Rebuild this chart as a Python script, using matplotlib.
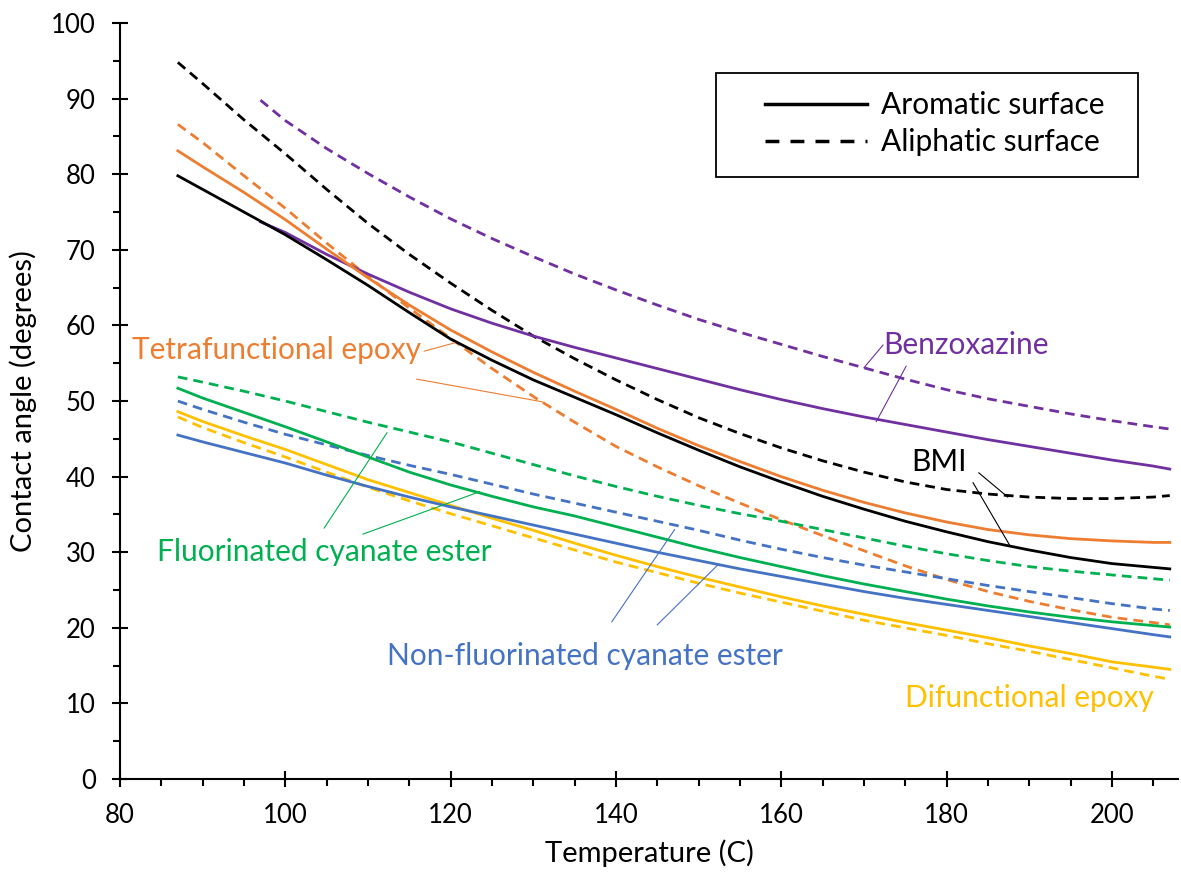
import numpy as np
import matplotlib
matplotlib.use("Agg")
import matplotlib.pyplot as plt
from matplotlib.patches import Rectangle
from matplotlib.ticker import MultipleLocator

plt.rcParams['font.family'] = ['Lato', 'DejaVu Sans']

# temperatures (C) at which the curves were read
temp = [87, 90, 95, 100, 105, 110, 115, 120, 125, 130, 135, 140, 145,
        150, 155, 160, 165, 170, 175, 180, 185, 190, 195, 200, 205, 207]
temp_bz = [97, 100, 105, 110, 115, 120, 125, 130, 135, 140, 145,
           150, 155, 160, 165, 170, 175, 180, 185, 190, 195, 200, 205, 207]

# contact angle (degrees): *_aro = aromatic surface, *_ali = aliphatic surface
bmi_aro = [79.8, 78.0, 75.0, 72.0, 68.7, 65.3, 61.7, 58.2, 55.4, 52.8, 50.5, 48.2, 45.8,
           43.5, 41.3, 39.3, 37.4, 35.7, 34.1, 32.7, 31.4, 30.3, 29.3, 28.5, 28.0, 27.8]
bmi_ali = [94.8, 92.0, 87.2, 82.7, 78.0, 73.5, 69.4, 65.6, 62.0, 58.6, 55.6, 52.8, 50.2,
           47.8, 45.7, 43.8, 42.1, 40.6, 39.3, 38.3, 37.7, 37.3, 37.1, 37.1, 37.3, 37.5]
tetra_aro = [83.1, 81.0, 77.6, 74.0, 70.1, 66.3, 62.7, 59.4, 56.5, 53.8, 51.3, 48.9, 46.4,
             44.1, 42.0, 40.0, 38.2, 36.6, 35.2, 34.0, 33.0, 32.3, 31.8, 31.5, 31.3, 31.3]
tetra_ali = [86.6, 84.2, 79.8, 75.5, 70.9, 66.5, 62.3, 58.3, 54.3, 50.6, 47.2, 44.0, 41.3,
             38.8, 36.5, 34.3, 32.2, 30.2, 28.2, 26.4, 24.8, 23.5, 22.4, 21.4, 20.7, 20.4]
bz_aro = [73.7, 72.3, 69.4, 66.8, 64.4, 62.2, 60.3, 58.6, 57.1, 55.7, 54.3,
          52.9, 51.5, 50.2, 49.0, 47.9, 46.9, 45.9, 44.9, 44.0, 43.1, 42.2, 41.4, 41.0]
bz_ali = [89.8, 87.1, 83.4, 80.1, 77.0, 74.1, 71.5, 69.1, 66.8, 64.7, 62.7,
          60.8, 59.1, 57.5, 55.9, 54.4, 52.9, 51.5, 50.3, 49.3, 48.3, 47.4, 46.6, 46.3]
fce_aro = [51.7, 50.4, 48.5, 46.6, 44.6, 42.6, 40.6, 38.9, 37.4, 36.0, 34.8, 33.4, 32.0,
           30.6, 29.3, 28.1, 26.9, 25.8, 24.8, 23.8, 22.9, 22.1, 21.4, 20.8, 20.3, 20.1]
fce_ali = [53.2, 52.5, 51.3, 50.0, 48.6, 47.2, 45.9, 44.6, 43.1, 41.6, 40.1, 38.7, 37.4,
           36.2, 35.1, 34.1, 33.0, 31.9, 30.8, 29.8, 28.9, 28.1, 27.5, 27.0, 26.5, 26.3]
nce_aro = [45.5, 44.6, 43.2, 41.8, 40.2, 38.7, 37.3, 36.0, 34.8, 33.6, 32.4, 31.2, 30.0,
           28.9, 27.8, 26.8, 25.8, 24.8, 23.9, 23.1, 22.3, 21.5, 20.7, 19.9, 19.1, 18.8]
nce_ali = [50.0, 48.9, 47.2, 45.6, 44.2, 42.8, 41.5, 40.3, 39.0, 37.7, 36.5, 35.3, 34.1,
           32.9, 31.6, 30.4, 29.3, 28.3, 27.4, 26.5, 25.6, 24.8, 24.0, 23.2, 22.5, 22.3]
di_aro = [48.6, 47.3, 45.4, 43.6, 41.6, 39.6, 37.9, 36.2, 34.5, 32.9, 31.2, 29.6, 28.1,
          26.7, 25.4, 24.1, 22.9, 21.8, 20.7, 19.7, 18.7, 17.6, 16.6, 15.5, 14.8, 14.5]
di_ali = [47.9, 46.5, 44.5, 42.6, 40.6, 38.6, 36.8, 35.1, 33.5, 31.9, 30.3, 28.7, 27.3,
          25.9, 24.6, 23.4, 22.2, 21.0, 20.0, 19.0, 17.9, 16.9, 15.8, 14.7, 13.6, 13.2]

c_black = 'black'
c_orange = '#ED7D31'
c_purple = '#7030A0'
c_green = '#00B050'
c_blue = '#4472C4'
c_yellow = '#FFC000'

fig = plt.figure(figsize=(11.81, 8.77), dpi=100)
ax = fig.add_axes([0.1016, 0.1117, 0.8959, 0.862])

lw = 2.0
dash = (0, (3.5, 2.2))

ax.plot(temp, bmi_ali, color=c_black, lw=lw, ls=dash)
ax.plot(temp_bz, bz_ali, color=c_purple, lw=lw, ls=dash)
ax.plot(temp, tetra_ali, color=c_orange, lw=lw, ls=dash)
ax.plot(temp, fce_ali, color=c_green, lw=lw, ls=dash)
ax.plot(temp, nce_ali, color=c_blue, lw=lw, ls=dash)
ax.plot(temp, di_ali, color=c_yellow, lw=lw, ls=dash)
ax.plot(temp, di_aro, color=c_yellow, lw=lw)
ax.plot(temp, nce_aro, color=c_blue, lw=lw)
ax.plot(temp, fce_aro, color=c_green, lw=lw)
ax.plot(temp_bz, bz_aro, color=c_purple, lw=lw)
ax.plot(temp, tetra_aro, color=c_orange, lw=lw)
ax.plot(temp, bmi_aro, color=c_black, lw=lw)

# legend: proxy lines, frame drawn by hand for the wide left margin
h1, = ax.plot([], [], color='black', lw=2.5, label='Aromatic surface')
h2, = ax.plot([], [], color='black', lw=2.5, ls=(0, (4, 3.2)), label='Aliphatic surface')
ax.add_patch(Rectangle((0.5633, 0.7963), 0.3987, 0.1376, transform=ax.transAxes,
                       fill=False, edgecolor='black', lw=1.3, zorder=5))
ax.legend(handles=[h1, h2], loc='center left', bbox_to_anchor=(0.6096, 0.867),
          fontsize=21.5, frameon=False, handlelength=3.4, handletextpad=0.5,
          borderpad=0, labelspacing=0.3, borderaxespad=0)

# labels with leader lines
fs = 21.5
ax.text(81.5, 56.7, 'Tetrafunctional epoxy', color=c_orange, fontsize=fs, va='center', ha='left')
ax.plot([116.8, 120.5], [56.6, 57.7], color=c_orange, lw=0.8)
ax.plot([115.9, 131.1], [52.9, 49.9], color=c_orange, lw=0.8)

ax.text(104.7, 30.0, 'Fluorinated cyanate ester', color=c_green, fontsize=fs, va='center', ha='center')
ax.plot([104.7, 112.3], [33.2, 45.8], color=c_green, lw=0.8)
ax.plot([109.4, 123.5], [32.4, 38.0], color=c_green, lw=0.8)

ax.text(136.2, 16.3, 'Non-fluorinated cyanate ester', color=c_blue, fontsize=fs, va='center', ha='center')
ax.plot([139.5, 147.1], [20.8, 33.0], color=c_blue, lw=0.8)
ax.plot([145.0, 152.3], [20.4, 28.3], color=c_blue, lw=0.8)

ax.text(182.3, 57.4, 'Benzoxazine', color=c_purple, fontsize=fs, va='center', ha='center')
ax.plot([172.3, 170.0], [57.4, 54.4], color=c_purple, lw=0.8)
ax.plot([175.1, 171.5], [54.6, 47.3], color=c_purple, lw=0.8)

ax.text(179.1, 41.9, 'BMI', color='black', fontsize=fs, va='center', ha='center')
ax.plot([183.9, 187.4], [40.5, 37.3], color='black', lw=0.8)
ax.plot([183.2, 187.7], [39.2, 30.8], color='black', lw=0.8)

ax.text(190.0, 10.7, 'Difunctional epoxy', color=c_yellow, fontsize=fs, va='center', ha='center')

ax.set_xlim(80, 208)
ax.set_ylim(0, 100)
ax.xaxis.set_major_locator(MultipleLocator(20))
ax.xaxis.set_minor_locator(MultipleLocator(5))
ax.yaxis.set_major_locator(MultipleLocator(10))
ax.yaxis.set_minor_locator(MultipleLocator(5))

for s in ['top', 'right']:
    ax.spines[s].set_visible(False)
for s in ['left', 'bottom']:
    ax.spines[s].set_linewidth(1.5)

ax.tick_params(which='major', direction='inout', length=11, width=1.5, labelsize=18.5)
ax.tick_params(axis='y', which='major', pad=12)
ax.tick_params(axis='x', which='major', pad=12)
ax.tick_params(which='minor', direction='out', length=5, width=1.5)

ax.set_xlabel('Temperature (C)', fontsize=21, labelpad=8)
ax.set_ylabel('Contact angle (degrees)', fontsize=21, labelpad=10)

fig.savefig('out.png', dpi=100)
